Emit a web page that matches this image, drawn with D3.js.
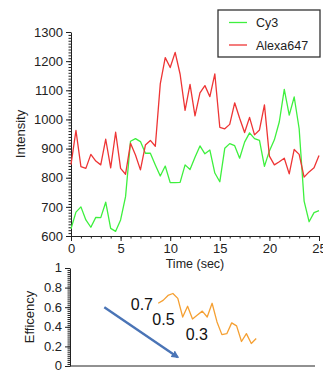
<!DOCTYPE html>
<html>
<head>
<meta charset="utf-8">
<script src="https://cdn.jsdelivr.net/npm/d3@7"></script>
<style>
  body { margin: 0; background: #fff; }
  svg { display: block; font-family: 'Liberation Sans', Arial, sans-serif; }
  .domain { stroke: #222; }
  .tick line { stroke: #222; }
  .tick text { fill: #222; }
</style>
</head>
<body>
<div id="chart"></div>
<script>
// time points (sec) of the intensity trace
const timeSec = [0, 0.5, 1, 1.5, 2, 2.5, 3, 3.5, 4, 4.5, 5, 5.5, 6, 6.5, 7, 7.5, 8, 8.5, 9, 9.5,
  10, 10.5, 11, 11.5, 12, 12.5, 13, 13.5, 14, 14.5, 15, 15.5, 16, 16.5, 17, 17.5, 18, 18.5, 19, 19.5,
  20, 20.5, 21, 21.5, 22, 22.5, 23, 23.5, 24, 24.5, 25];
const cy3 = [625, 682, 700, 655, 630, 664, 663, 716, 626, 616, 655, 735, 925, 934, 924, 884, 884, 844, 806, 840,
  783, 783, 784, 844, 828, 870, 909, 882, 895, 816, 786, 901, 917, 910, 867, 922, 954, 934, 928, 839,
  892, 930, 992, 1103, 1015, 1077, 968, 720, 649, 680, 687];
const alexa647 = [845, 962, 838, 832, 880, 857, 844, 932, 834, 956, 832, 812, 918, 878, 827, 912, 928, 908, 1122, 1212,
  1178, 1230, 1155, 1031, 1120, 1012, 1091, 1116, 1078, 1156, 973, 968, 983, 1057, 1004, 955, 1007, 947, 964, 1050,
  874, 844, 855, 867, 813, 897, 880, 802, 820, 834, 876];

// FRET efficiency trace
const effTime = [9, 9.5, 10, 10.5, 11, 11.5, 12, 12.5, 13, 13.5, 14, 14.5, 15, 15.5, 16, 16.5, 17, 17.5, 18, 18.5, 19];
const efficiency = [0.64, 0.67, 0.72, 0.74, 0.69, 0.50, 0.61, 0.48, 0.52, 0.56, 0.50, 0.64, 0.45, 0.32, 0.33, 0.44, 0.41, 0.25, 0.33, 0.23, 0.28];

// annotations on the efficiency panel
const arrowFrom = [3.5, 0.6];
const arrowTo = [11, 0.09];
const levelLabels = ['0.7', '0.5', '0.3'];
const levelPos = [[6.2, 0.57], [8.4, 0.42], [11.8, 0.265]];

const intensityTicks = [600, 700, 800, 900, 1000, 1100, 1200, 1300];
const timeTicks = [0, 5, 10, 15, 20, 25];
const effTicks = [0, 0.2, 0.4, 0.6, 0.8, 1];

const seriesNames = ['Cy3', 'Alexa647'];
const colors = ['#3ef03e', '#ee3535'];

const W = 323, H = 373;
const svg = d3.select('#chart').append('svg').attr('width', W).attr('height', H);

// ---- top panel: intensity
const x = d3.scaleLinear().domain([0, 25]).range([71, 319]);
const y = d3.scaleLinear().domain([600, 1300]).range([236, 32]);

// minor ticks
svg.append('g')
  .attr('transform', `translate(${x(0)},0)`)
  .call(d3.axisLeft(y).tickValues(d3.range(600, 1301, 10)).tickSize(2.5).tickFormat(''))
  .call(g => g.select('.domain').remove());
svg.append('g')
  .attr('transform', `translate(0,${y(600)})`)
  .call(d3.axisBottom(x).tickValues(d3.range(0, 26, 1)).tickSize(2.5).tickFormat(''))
  .call(g => g.select('.domain').remove());

svg.append('g')
  .attr('transform', `translate(${x(0)},0)`)
  .call(d3.axisLeft(y).tickValues(intensityTicks).tickSize(5).tickSizeOuter(0).tickPadding(3).tickFormat(d3.format('d')))
  .call(g => g.selectAll('text').style('font-size', '13px'));
svg.append('g')
  .attr('transform', `translate(0,${y(600)})`)
  .call(d3.axisBottom(x).tickValues(timeTicks).tickSize(5).tickSizeOuter(0).tickPadding(3))
  .call(g => g.selectAll('text').style('font-size', '13px'));

const line = d3.line()
  .x((d, i) => x(timeSec[i]))
  .y(d => y(d));

[cy3, alexa647].forEach((s, i) => {
  svg.append('path')
    .datum(s)
    .attr('fill', 'none')
    .attr('stroke', colors[i])
    .attr('stroke-width', 1.3)
    .attr('stroke-linejoin', 'round')
    .attr('d', line);
});

svg.append('text')
  .text('Intensity')
  .attr('transform', `translate(25,${(y(600) + y(1300)) / 2}) rotate(-90)`)
  .attr('text-anchor', 'middle')
  .style('font-size', '13px')
  .attr('fill', '#222');

svg.append('text')
  .text('Time (sec)')
  .attr('x', (x(0) + x(25)) / 2)
  .attr('y', 268)
  .attr('text-anchor', 'middle')
  .style('font-size', '12.5px')
  .attr('fill', '#222');

// legend
const legend = svg.append('g').attr('transform', 'translate(218,10)');
legend.append('rect')
  .attr('width', 102).attr('height', 47)
  .attr('fill', '#fff').attr('stroke', '#333').attr('stroke-width', 1.3);
seriesNames.forEach((name, i) => {
  const row = legend.append('g').attr('transform', `translate(0,${12.5 + i * 22.5})`);
  row.append('line').attr('x1', 11).attr('x2', 29)
    .attr('stroke', colors[i]).attr('stroke-width', 1.3);
  row.append('text').text(name).attr('x', 38).attr('y', 4.5)
    .style('font-size', '12.5px').attr('fill', '#222');
});

// ---- bottom panel: efficiency
const x2 = d3.scaleLinear().domain([0, 25]).range([70, 315]);
const y2 = d3.scaleLinear().domain([0, 1]).range([366, 268]);

svg.append('g')
  .attr('transform', `translate(${x2(0)},0)`)
  .call(d3.axisLeft(y2).tickValues(d3.range(0, 50).map(i => i / 50)).tickSize(2.5).tickFormat(''))
  .call(g => g.select('.domain').remove());
svg.append('g')
  .attr('transform', `translate(${x2(0)},0)`)
  .call(d3.axisLeft(y2).tickValues(effTicks).tickSize(5).tickSizeOuter(0).tickPadding(3)
    .tickFormat(d => d === 0 || d === 1 ? d3.format('d')(d) : d3.format('.1f')(d)))
  .call(g => g.selectAll('text').style('font-size', '13px').attr('dy', '0.3em'));
svg.append('line')
  .attr('x1', x2(0)).attr('x2', x2(25))
  .attr('y1', y2(0)).attr('y2', y2(0))
  .attr('stroke', '#222');

svg.append('path')
  .datum(efficiency)
  .attr('fill', 'none')
  .attr('stroke', '#f5a033')
  .attr('stroke-width', 1.3)
  .attr('stroke-linejoin', 'round')
  .attr('d', d3.line().x((d, i) => x2(effTime[i])).y(d => y2(d)));

svg.append('defs').append('marker')
  .attr('id', 'head')
  .attr('viewBox', '0 0 10 10')
  .attr('refX', 8).attr('refY', 5)
  .attr('markerWidth', 3.2).attr('markerHeight', 3.2)
  .attr('orient', 'auto')
  .append('path').attr('d', 'M0,0 L10,5 L0,10 z').attr('fill', '#4a74b6');

svg.append('line')
  .attr('x1', x2(arrowFrom[0])).attr('y1', y2(arrowFrom[1]))
  .attr('x2', x2(arrowTo[0])).attr('y2', y2(arrowTo[1]))
  .attr('stroke', '#4a74b6').attr('stroke-width', 2.4)
  .attr('marker-end', 'url(#head)');

levelLabels.forEach((t, i) => {
  svg.append('text').text(t)
    .attr('x', x2(levelPos[i][0])).attr('y', y2(levelPos[i][1]))
    .style('font-size', '16px').attr('fill', '#111');
});

svg.append('text')
  .text('Efficency')
  .attr('transform', `translate(34,${(y2(0) + y2(1)) / 2}) rotate(-90)`)
  .attr('text-anchor', 'middle')
  .style('font-size', '13px')
  .attr('fill', '#222');
</script>
</body>
</html>
